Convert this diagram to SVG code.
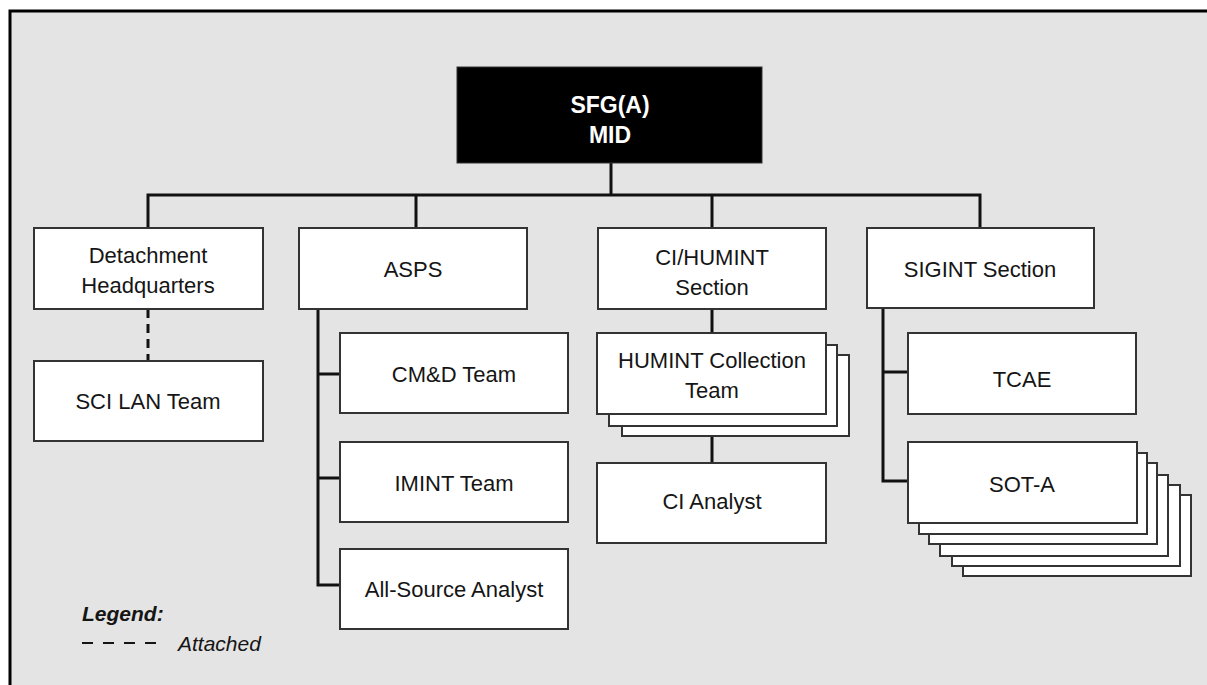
<svg xmlns="http://www.w3.org/2000/svg" width="1207" height="685" viewBox="0 0 1207 685">
<style>
.box{fill:#fff;stroke:#333;stroke-width:2}
.t{font-family:"Liberation Sans",Arial,sans-serif;font-size:22px;fill:#151515;text-anchor:middle}
.c{fill:none;stroke:#111;stroke-width:3}
.d{fill:none;stroke:#111;stroke-width:3;stroke-dasharray:9,6}
</style>
<rect x="0" y="0" width="1207" height="685" fill="#fff"/>
<rect x="10" y="11" width="1230" height="700" fill="#e4e4e4" stroke="#000" stroke-width="3"/>
<g id="connectors">
<path class="c" d="M611 163V195M148 228V195H980V228M416 195V228M712 195V228"/>
<path class="c" d="M318 309V585H340M318 374H340M318 478H340"/>
<path class="c" d="M712 309V333M712 436V463"/>
<path class="c" d="M883 308V481H908M883 372H908"/>
<path class="d" d="M148 309V361"/>
</g>
<g id="mid">
<rect x="457" y="67" width="305" height="96" fill="#000" stroke="#333" stroke-width="1"/>
<text class="t" x="610" y="113" style="fill:#fff;font-weight:bold;font-size:23px">SFG(A)</text>
<text class="t" x="610" y="143" style="fill:#fff;font-weight:bold;font-size:23px">MID</text>
</g>
<g id="dethq">
<rect class="box" x="34" y="228" width="229" height="81"/>
<text class="t" x="148" y="263">Detachment</text>
<text class="t" x="148" y="293">Headquarters</text>
</g>
<g id="scilan">
<rect class="box" x="34" y="361" width="229" height="80"/>
<text class="t" x="148" y="409">SCI LAN Team</text>
</g>
<g id="asps">
<rect class="box" x="299" y="228" width="228" height="81"/>
<text class="t" x="413" y="277">ASPS</text>
</g>
<g id="cmd">
<rect class="box" x="340" y="333" width="228" height="80"/>
<text class="t" x="454" y="382">CM&amp;D Team</text>
</g>
<g id="imint">
<rect class="box" x="340" y="442" width="228" height="80"/>
<text class="t" x="454" y="491">IMINT Team</text>
</g>
<g id="allsource">
<rect class="box" x="340" y="549" width="228" height="80"/>
<text class="t" x="454" y="597">All-Source Analyst</text>
</g>
<g id="cihumint">
<rect class="box" x="598" y="228" width="228" height="81"/>
<text class="t" x="712" y="265">CI/HUMINT</text>
<text class="t" x="712" y="295">Section</text>
</g>
<g id="humintcoll">
<rect class="box" x="622" y="355" width="227" height="81"/>
<rect class="box" x="609" y="345" width="228" height="81"/>
<rect class="box" x="597" y="333" width="229" height="81"/>
<text class="t" x="712" y="368">HUMINT Collection</text>
<text class="t" x="712" y="398">Team</text>
</g>
<g id="cianalyst">
<rect class="box" x="597" y="463" width="229" height="80"/>
<text class="t" x="712" y="509">CI Analyst</text>
</g>
<g id="sigint">
<rect class="box" x="867" y="228" width="227" height="80"/>
<text class="t" x="980" y="277">SIGINT Section</text>
</g>
<g id="tcae">
<rect class="box" x="908" y="333" width="228" height="81"/>
<text class="t" x="1022" y="387">TCAE</text>
</g>
<g id="sota">
<rect class="box" x="963" y="495" width="228" height="81"/>
<rect class="box" x="952" y="485" width="228" height="81"/>
<rect class="box" x="940" y="475" width="228" height="81"/>
<rect class="box" x="929" y="463" width="228" height="81"/>
<rect class="box" x="919" y="453" width="228" height="81"/>
<rect class="box" x="908" y="442" width="229" height="81"/>
<text class="t" x="1022" y="492">SOT-A</text>
</g>
<g id="legend">
<text x="82" y="621" style="font-family:'Liberation Sans',Arial,sans-serif;font-size:21px;font-weight:bold;font-style:italic;fill:#151515">Legend:</text>
<path d="M82 643H157" fill="none" stroke="#151515" stroke-width="2" stroke-dasharray="11,10"/>
<text x="178" y="651" style="font-family:'Liberation Sans',Arial,sans-serif;font-size:21px;font-style:italic;fill:#151515">Attached</text>
</g>
</svg>
